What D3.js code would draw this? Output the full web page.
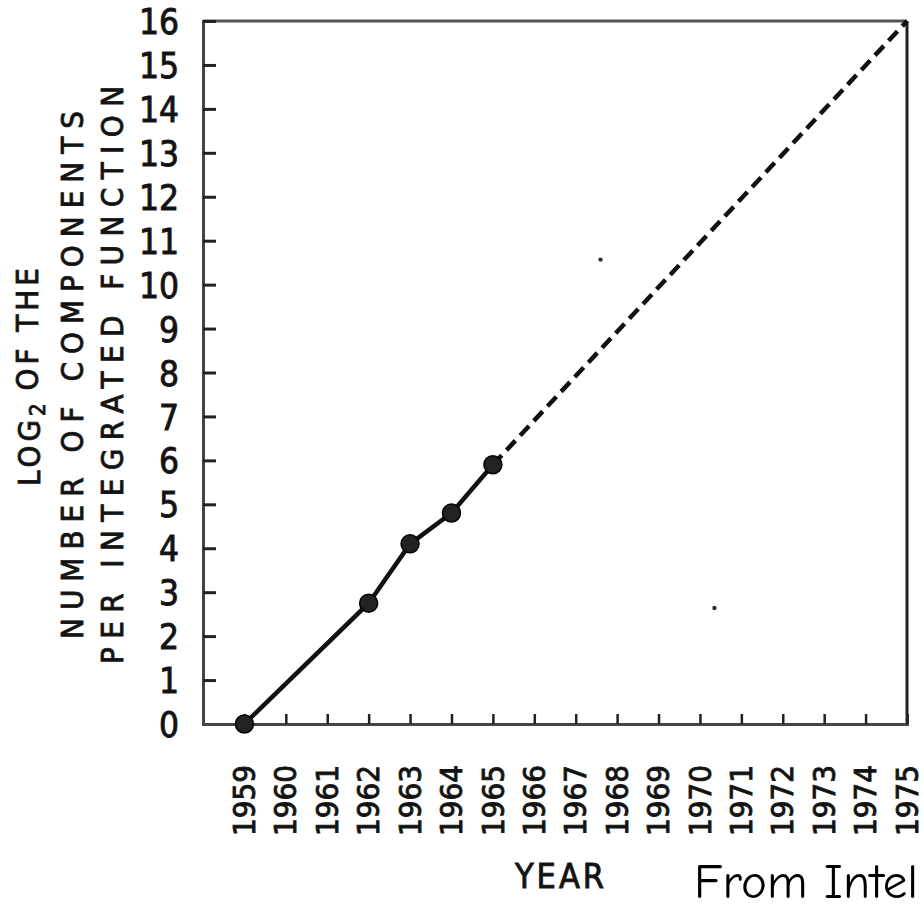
<!DOCTYPE html>
<html>
<head>
<meta charset="utf-8">
<script src="https://cdn.jsdelivr.net/npm/d3@7"></script>
<style>
  body { margin: 0; background: #fff; }
  svg text { font-family: "DejaVu Sans Condensed", "DejaVu Sans", sans-serif; fill: #111; }
  .inked { stroke: #1a1a1a; stroke-width: 0.9px; }
</style>
</head>
<body>
<div id="chart"></div>
<script>
// measured points (log2 of components per integrated function)
const years = [1959, 1962, 1963, 1964, 1965];
const log2Components = [0, 2.75, 4.1, 4.8, 5.9];
// extrapolation out to 1975
const trendYears = [1965, 1975];
const trendValues = [5.9, 16];
// tick labels
const yearTicks = d3.range(1959, 1976);
const yTicks = d3.range(0, 17);
// two stray specks of the scan
const speckYears = [1967.6, 1970.35];
const speckValues = [10.57, 2.64];

const width = 924, height = 912;
const svg = d3.select("#chart").append("svg")
    .attr("width", width)
    .attr("height", height);

const x = d3.scaleLinear().domain([1958, 1975]).range([203, 907]);
const y = d3.scaleLinear().domain([0, 16]).range([724, 21]);

// frame: top and right
svg.append("line")
    .attr("x1", x(1958)).attr("x2", x(1975))
    .attr("y1", y(16)).attr("y2", y(16))
    .attr("stroke", "#555").attr("stroke-width", 3);
svg.append("line")
    .attr("x1", x(1975)).attr("x2", x(1975))
    .attr("y1", y(16)).attr("y2", y(0))
    .attr("stroke", "#222").attr("stroke-width", 3);

// y axis
const yAxis = svg.append("g")
    .attr("transform", `translate(${x(1958)},0)`)
    .call(d3.axisLeft(y).tickValues(yTicks).tickSize(-13).tickPadding(24));
yAxis.select(".domain").attr("stroke", "#444").attr("stroke-width", 3);
yAxis.selectAll(".tick line").attr("stroke", "#222").attr("stroke-width", 3);
yAxis.selectAll(".tick text")
    .attr("class", "inked")
    .attr("font-size", 35)
    .attr("fill", "#1a1a1a")
    .attr("dy", "0.36em");

// x axis
const xAxis = svg.append("g")
    .attr("transform", `translate(0,${y(0)})`)
    .call(d3.axisBottom(x).tickValues(yearTicks).tickFormat(d3.format("d")).tickSize(-10).tickPadding(0));
xAxis.select(".domain").attr("stroke", "#444").attr("stroke-width", 3);
xAxis.selectAll(".tick line").attr("stroke", "#222").attr("stroke-width", 2.5);
xAxis.selectAll(".tick text")
    .attr("class", "inked")
    .attr("font-size", 31)
    .attr("fill", "#1a1a1a")
    .attr("text-anchor", "start")
    .attr("transform", "translate(-1,112) rotate(-90)")
    .attr("x", 0)
    .attr("y", 0)
    .attr("dy", "0.36em");

// extrapolated trend (dashed)
svg.append("path")
    .datum(d3.zip(trendYears, trendValues))
    .attr("fill", "none")
    .attr("stroke", "#111")
    .attr("stroke-width", 4.5)
    .attr("stroke-dasharray", "13,7")
    .attr("d", d3.line().x(d => x(d[0])).y(d => y(d[1])));

// measured line
const pts = d3.zip(years, log2Components);
svg.append("path")
    .datum(pts)
    .attr("fill", "none")
    .attr("stroke", "#111")
    .attr("stroke-width", 4.5)
    .attr("d", d3.line().x(d => x(d[0])).y(d => y(d[1])));

svg.selectAll(".pt")
    .data(pts)
    .join("circle")
    .attr("class", "pt")
    .attr("cx", d => x(d[0]))
    .attr("cy", d => y(d[1]))
    .attr("r", 9)
    .attr("fill", "#222")
    .attr("stroke", "#000")
    .attr("stroke-width", 1.5);

svg.selectAll(".speck")
    .data(d3.zip(speckYears, speckValues))
    .join("circle")
    .attr("class", "speck")
    .attr("cx", d => x(d[0]))
    .attr("cy", d => y(d[1]))
    .attr("r", 2.2)
    .attr("fill", "#333");

// y title, three rotated lines
const titleLines = [
    { parts: [["LOG", false], ["2", true], [" OF THE", false]], cx: 29 },
    { parts: [["NUMBER OF COMPONENTS", false]], cx: 72, len: 528 },
    { parts: [["PER INTEGRATED FUNCTION", false]], cx: 112, len: 578 }
];
titleLines.forEach(l => {
    const t = svg.append("text")
        .attr("class", "inked")
        .attr("transform", `translate(${l.cx},375) rotate(-90)`)
        .attr("text-anchor", "middle")
        .attr("dy", "0.36em")
        .attr("fill", "#1a1a1a")
        .attr("font-size", 31);
    if (l.parts.length === 1) {
        t.text(l.parts[0][0])
            .attr("textLength", l.len)
            .attr("lengthAdjust", "spacing");
    } else {
        l.parts.forEach(p => {
            t.append("tspan")
                .attr("font-size", p[1] ? 22 : 31)
                .attr("dy", p[1] ? "0.2em" : (p[0] === " OF THE" ? "-0.2em" : null))
                .attr("letter-spacing", p[1] ? 0 : 4)
                .text(p[0]);
        });
    }
});

// x title
svg.append("text")
    .attr("class", "inked")
    .attr("x", 561)
    .attr("y", 876)
    .attr("text-anchor", "middle")
    .attr("dy", "0.36em")
    .attr("font-size", 34)
    .attr("fill", "#1a1a1a")
    .attr("letter-spacing", 3)
    .text("YEAR");

// source note
svg.append("text")
    .attr("x", 918)
    .attr("y", 898)
    .attr("text-anchor", "end")
    .attr("font-size", 49)
    .style("font-family", "'Comic Sans MS', 'Comic Neue', 'DejaVu Sans', sans-serif")
    .style("fill", "#000")
    .text("From Intel");
</script>
</body>
</html>
